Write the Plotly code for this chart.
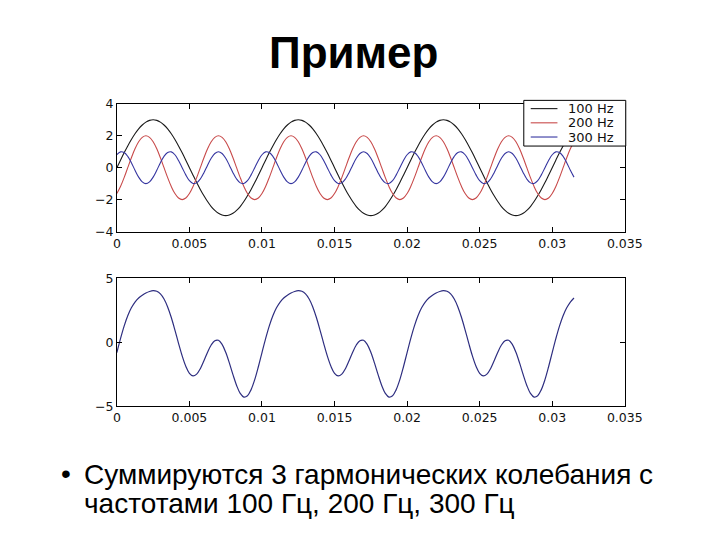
import plotly.graph_objects as go

# time samples (s)
t = [0.0, 0.00025, 0.0005, 0.00075, 0.001, 0.00125, 0.0015, 0.00175,
     0.002, 0.00225, 0.0025, 0.00275, 0.003, 0.00325, 0.0035, 0.00375,
     0.004, 0.00425, 0.0045, 0.00475, 0.005, 0.00525, 0.0055, 0.00575,
     0.006, 0.00625, 0.0065, 0.00675, 0.007, 0.00725, 0.0075, 0.00775,
     0.008, 0.00825, 0.0085, 0.00875, 0.009, 0.00925, 0.0095, 0.00975,
     0.010, 0.01025, 0.0105, 0.01075, 0.011, 0.01125, 0.0115, 0.01175,
     0.012, 0.01225, 0.0125, 0.01275, 0.013, 0.01325, 0.0135, 0.01375,
     0.014, 0.01425, 0.0145, 0.01475, 0.015, 0.01525, 0.0155, 0.01575,
     0.016, 0.01625, 0.0165, 0.01675, 0.017, 0.01725, 0.0175, 0.01775,
     0.018, 0.01825, 0.0185, 0.01875, 0.019, 0.01925, 0.0195, 0.01975,
     0.020, 0.02025, 0.0205, 0.02075, 0.021, 0.02125, 0.0215, 0.02175,
     0.022, 0.02225, 0.0225, 0.02275, 0.023, 0.02325, 0.0235, 0.02375,
     0.024, 0.02425, 0.0245, 0.02475, 0.025, 0.02525, 0.0255, 0.02575,
     0.026, 0.02625, 0.0265, 0.02675, 0.027, 0.02725, 0.0275, 0.02775,
     0.028, 0.02825, 0.0285, 0.02875, 0.029, 0.02925, 0.0295, 0.02975,
     0.030, 0.03025, 0.0305, 0.03075, 0.031, 0.03125, 0.0315]

hz100 = [0, 0.47, 0.93, 1.36, 1.76, 2.12, 2.43, 2.67, 2.85, 2.96,
         3.00, 2.96, 2.85, 2.67, 2.43, 2.12, 1.76, 1.36, 0.93, 0.47,
         0, -0.47, -0.93, -1.36, -1.76, -2.12, -2.43, -2.67, -2.85, -2.96,
         -3.00, -2.96, -2.85, -2.67, -2.43, -2.12, -1.76, -1.36, -0.93, -0.47,
         0, 0.47, 0.93, 1.36, 1.76, 2.12, 2.43, 2.67, 2.85, 2.96,
         3.00, 2.96, 2.85, 2.67, 2.43, 2.12, 1.76, 1.36, 0.93, 0.47,
         0, -0.47, -0.93, -1.36, -1.76, -2.12, -2.43, -2.67, -2.85, -2.96,
         -3.00, -2.96, -2.85, -2.67, -2.43, -2.12, -1.76, -1.36, -0.93, -0.47,
         0, 0.47, 0.93, 1.36, 1.76, 2.12, 2.43, 2.67, 2.85, 2.96,
         3.00, 2.96, 2.85, 2.67, 2.43, 2.12, 1.76, 1.36, 0.93, 0.47,
         0, -0.47, -0.93, -1.36, -1.76, -2.12, -2.43, -2.67, -2.85, -2.96,
         -3.00, -2.96, -2.85, -2.67, -2.43, -2.12, -1.76, -1.36, -0.93, -0.47,
         0, 0.47, 0.93, 1.36, 1.76, 2.12, 2.43]

hz200 = [-1.62, -1.18, -0.62, 0, 0.62, 1.18, 1.62, 1.90, 2.00, 1.90,
         1.62, 1.18, 0.62, 0, -0.62, -1.18, -1.62, -1.90, -2.00, -1.90,
         -1.62, -1.18, -0.62, 0, 0.62, 1.18, 1.62, 1.90, 2.00, 1.90,
         1.62, 1.18, 0.62, 0, -0.62, -1.18, -1.62, -1.90, -2.00, -1.90,
         -1.62, -1.18, -0.62, 0, 0.62, 1.18, 1.62, 1.90, 2.00, 1.90,
         1.62, 1.18, 0.62, 0, -0.62, -1.18, -1.62, -1.90, -2.00, -1.90,
         -1.62, -1.18, -0.62, 0, 0.62, 1.18, 1.62, 1.90, 2.00, 1.90,
         1.62, 1.18, 0.62, 0, -0.62, -1.18, -1.62, -1.90, -2.00, -1.90,
         -1.62, -1.18, -0.62, 0, 0.62, 1.18, 1.62, 1.90, 2.00, 1.90,
         1.62, 1.18, 0.62, 0, -0.62, -1.18, -1.62, -1.90, -2.00, -1.90,
         -1.62, -1.18, -0.62, 0, 0.62, 1.18, 1.62, 1.90, 2.00, 1.90,
         1.62, 1.18, 0.62, 0, -0.62, -1.18, -1.62, -1.90, -2.00, -1.90,
         -1.62, -1.18, -0.62, 0, 0.62, 1.18, 1.62]

hz300 = [0.81, 0.99, 0.95, 0.71, 0.31, -0.16, -0.59, -0.89, -1.00, -0.89,
         -0.59, -0.16, 0.31, 0.71, 0.95, 0.99, 0.81, 0.45, 0, -0.45,
         -0.81, -0.99, -0.95, -0.71, -0.31, 0.16, 0.59, 0.89, 1.00, 0.89,
         0.59, 0.16, -0.31, -0.71, -0.95, -0.99, -0.81, -0.45, 0, 0.45,
         0.81, 0.99, 0.95, 0.71, 0.31, -0.16, -0.59, -0.89, -1.00, -0.89,
         -0.59, -0.16, 0.31, 0.71, 0.95, 0.99, 0.81, 0.45, 0, -0.45,
         -0.81, -0.99, -0.95, -0.71, -0.31, 0.16, 0.59, 0.89, 1.00, 0.89,
         0.59, 0.16, -0.31, -0.71, -0.95, -0.99, -0.81, -0.45, 0, 0.45,
         0.81, 0.99, 0.95, 0.71, 0.31, -0.16, -0.59, -0.89, -1.00, -0.89,
         -0.59, -0.16, 0.31, 0.71, 0.95, 0.99, 0.81, 0.45, 0, -0.45,
         -0.81, -0.99, -0.95, -0.71, -0.31, 0.16, 0.59, 0.89, 1.00, 0.89,
         0.59, 0.16, -0.31, -0.71, -0.95, -0.99, -0.81, -0.45, 0, 0.45,
         0.81, 0.99, 0.95, 0.71, 0.31, -0.16, -0.59]

total = [-0.81, 0.28, 1.26, 2.07, 2.69, 3.14, 3.46, 3.68, 3.85, 3.97,
         4.03, 3.98, 3.78, 3.38, 2.76, 1.93, 0.95, -0.09, -1.07, -1.88,
         -2.43, -2.64, -2.50, -2.07, -1.45, -0.78, -0.22, 0.12, 0.15, -0.17,
         -0.79, -1.62, -2.54, -3.38, -4.00, -4.29, -4.19, -3.71, -2.93, -1.92,
         -0.81, 0.28, 1.26, 2.07, 2.69, 3.14, 3.46, 3.68, 3.85, 3.97,
         4.03, 3.98, 3.78, 3.38, 2.76, 1.93, 0.95, -0.09, -1.07, -1.88,
         -2.43, -2.64, -2.50, -2.07, -1.45, -0.78, -0.22, 0.12, 0.15, -0.17,
         -0.79, -1.62, -2.54, -3.38, -4.00, -4.29, -4.19, -3.71, -2.93, -1.92,
         -0.81, 0.28, 1.26, 2.07, 2.69, 3.14, 3.46, 3.68, 3.85, 3.97,
         4.03, 3.98, 3.78, 3.38, 2.76, 1.93, 0.95, -0.09, -1.07, -1.88,
         -2.43, -2.64, -2.50, -2.07, -1.45, -0.78, -0.22, 0.12, 0.15, -0.17,
         -0.79, -1.62, -2.54, -3.38, -4.00, -4.29, -4.19, -3.71, -2.93, -1.92,
         -0.81, 0.28, 1.26, 2.07, 2.69, 3.14, 3.46]

series_names = ["100 Hz", "200 Hz", "300 Hz"]
series_colors = ["#1a1a1a", "#c84a4a", "#3535a0"]
sum_color = "#2e2e80"

x_ticks = [0, 0.005, 0.01, 0.015, 0.02, 0.025, 0.03, 0.035]
x_tick_text = ["0", "0.005", "0.01", "0.015", "0.02", "0.025", "0.03", "0.035"]
top_y_ticks = [-4, -2, 0, 2, 4]
bottom_y_ticks = [-5, 0, 5]

title_text = "Пример"
bullet_lines = ["Суммируются 3 гармонических колебания с",
                "частотами 100 Гц, 200 Гц, 300 Гц"]

W, H = 720, 540
PW = 705  # effective horizontal extent of the paper area as rendered
def px(x):
    return x / PW
def py(y):
    return 1 - y / H

fig = go.Figure()
for ys, name, col in zip([hz100, hz200, hz300], series_names, series_colors):
    fig.add_trace(go.Scatter(x=t, y=ys, mode="lines", name=name, showlegend=False,
                             line=dict(color=col, width=1.1, shape="spline"),
                             xaxis="x", yaxis="y"))
fig.add_trace(go.Scatter(x=t, y=total, mode="lines", showlegend=False,
                         line=dict(color=sum_color, width=1.2, shape="spline"),
                         xaxis="x2", yaxis="y2"))

axis_font = "DejaVu Sans, Liberation Sans, sans-serif"
tick_font = dict(family=axis_font, size=12.5, color="#111")
axis_common = dict(showline=True, linecolor="black", linewidth=1, mirror="ticks",
                   ticks="inside", ticklen=5, tickcolor="black", showgrid=False,
                   zeroline=False, tickfont=tick_font)

fig.update_layout(
    width=W, height=H, margin=dict(l=0, r=0, t=0, b=0),
    paper_bgcolor="white", plot_bgcolor="white",
    xaxis=dict(domain=[px(114), px(627)], range=[0, 0.035], tickvals=x_ticks,
               ticktext=x_tick_text, anchor="y", **axis_common),
    yaxis=dict(domain=[py(230), py(98.5)], range=[-4, 4], tickvals=top_y_ticks,
               anchor="x", **axis_common),
    xaxis2=dict(domain=[px(114), px(627)], range=[0, 0.035], tickvals=x_ticks,
                ticktext=x_tick_text, anchor="y2", **axis_common),
    yaxis2=dict(domain=[py(409.5), py(278)], range=[-5, 5], tickvals=bottom_y_ticks,
                anchor="x2", **axis_common),
    showlegend=False,
)

# legend box drawn in the top-right corner of the upper panel
lg_x0, lg_x1, lg_y0, lg_y1 = 525, 628, 95, 142
fig.add_shape(type="rect", xref="paper", yref="paper",
              x0=px(lg_x0), x1=px(lg_x1), y0=py(lg_y1), y1=py(lg_y0),
              line=dict(color="black", width=1), fillcolor="white", layer="above")
for i, (name, col) in enumerate(zip(series_names, series_colors)):
    yc = 103.5 + 14.6 * i
    fig.add_shape(type="line", xref="paper", yref="paper",
                  x0=px(532), x1=px(559), y0=py(yc), y1=py(yc),
                  line=dict(color=col, width=1.1), layer="above")
    fig.add_annotation(x=px(568), y=py(yc), xref="paper", yref="paper",
                       text=name, showarrow=False, xanchor="left", yanchor="middle",
                       font=dict(family=axis_font, size=13, color="#111"))

text_font = "Liberation Sans, Arial, sans-serif"
fig.add_annotation(x=px(353), y=py(46), xref="paper", yref="paper",
                   text="<b>" + title_text + "</b>", showarrow=False,
                   xanchor="center", yanchor="middle",
                   font=dict(family=text_font, size=44, color="black"))
fig.add_annotation(x=px(56), y=py(479), xref="paper", yref="paper",
                   text="•", showarrow=False, xanchor="left", yanchor="middle",
                   font=dict(family=text_font, size=28, color="black"))
for i, line in enumerate(bullet_lines):
    fig.add_annotation(x=px(79), y=py(480 + 29.5 * i), xref="paper", yref="paper",
                       text=line, showarrow=False, xanchor="left", yanchor="middle",
                       font=dict(family=text_font, size=28, color="black"))

fig.write_html("out.html")
